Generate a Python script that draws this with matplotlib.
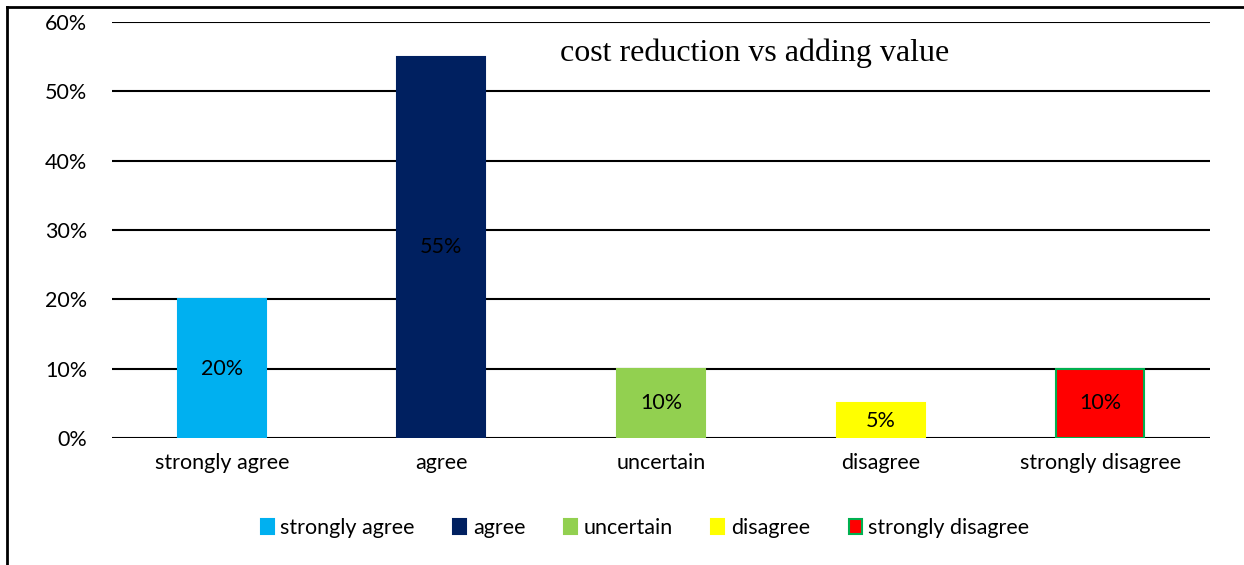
import matplotlib.pyplot as plt
from matplotlib.lines import Line2D

categories = ['strongly agree', 'agree', 'uncertain', 'disagree', 'strongly disagree']
values = [20, 55, 10, 5, 10]
colors = ['#00B0F0', '#002060', '#92D050', '#FFFF00', '#FF0000']
edges = ['#00B0F0', '#002060', '#92D050', '#FFFF00', '#00B050']
yticks = [0, 10, 20, 30, 40, 50, 60]

plt.rcParams['font.family'] = ['Lato', 'DejaVu Sans']
fs = 15.5

fig = plt.figure(figsize=(12.44, 5.65), dpi=100)
ax = fig.add_axes([112 / 1244, 1 - 438 / 565, (1210 - 112) / 1244, (438 - 22) / 565])

# chart frame (only left/top visible in the reference)
fig.add_artist(Line2D([7 / 1244, 7 / 1244], [0, 1 - 7 / 565], color='black', lw=2))
fig.add_artist(Line2D([7 / 1244, 1], [1 - 7 / 565, 1 - 7 / 565], color='black', lw=2))

x = range(len(categories))
bars = ax.bar(x, values, width=0.4, color=colors, edgecolor=edges, linewidth=1.5,
              zorder=3)

for b, v in zip(bars, values):
    ax.text(b.get_x() + b.get_width() / 2, v / 2, f'{v}%', ha='center', va='center',
            fontsize=fs, color='black', zorder=4)

ax.set_ylim(0, 60)
ax.set_xlim(-0.5, len(categories) - 0.5)
ax.set_yticks(yticks)
ax.set_yticklabels([f'{t}%' for t in yticks], fontsize=fs)
ax.set_xticks(list(x))
ax.set_xticklabels(categories, fontsize=fs)
ax.tick_params(length=0)
ax.tick_params(axis='x', pad=11)
ax.tick_params(axis='y', pad=18)
ax.grid(axis='y', color='black', lw=1.5, zorder=0)
for s in ax.spines.values():
    s.set_visible(False)

ax.text(0.585, 0.925, 'cost reduction vs adding value', transform=ax.transAxes,
        ha='center', va='center', fontsize=23, family='Liberation Serif')

handles = [plt.Rectangle((0, 0), 1, 1, facecolor=c, edgecolor=e, lw=1.5)
           for c, e in zip(colors, edges)]
fig.legend(handles, categories, loc='center', bbox_to_anchor=(645 / 1244, 1 - 528 / 565),
           ncol=5, frameon=False, fontsize=fs, handlelength=0.6, handleheight=0.75,
           handletextpad=0.3, columnspacing=1.8)

fig.savefig('out.png', dpi=100)
